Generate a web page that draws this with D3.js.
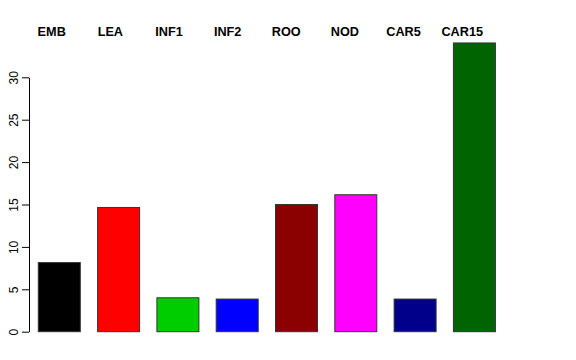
<!DOCTYPE html>
<html>
<head>
<meta charset="utf-8">
<script src="https://cdn.jsdelivr.net/npm/d3@7"></script>
<style>
  body { margin: 0; background: #fff; }
  svg { display: block; }
</style>
</head>
<body>
<svg width="576" height="360"></svg>
<script>
// categories, values and fills
var categories = ["EMB", "LEA", "INF1", "INF2", "ROO", "NOD", "CAR5", "CAR15"];
var values = [8.15, 14.65, 4.0, 3.85, 15.0, 16.15, 3.85, 34.05];
var colors = ["#000000", "#ff0000", "#00cd00", "#0000ff", "#8b0000", "#ff00ff", "#00008b", "#006400"];
var yTicks = [0, 5, 10, 15, 20, 25, 30];

var svg = d3.select("svg");

// x band for the bars
var x = d3.scaleBand()
    .domain(categories)
    .range([38.3, 495.4])
    .paddingInner(0.292)
    .paddingOuter(0);

// labels at top sit on their own spacing
var xl = d3.scalePoint()
    .domain(categories)
    .range([51.7, 462.2]);

var y = d3.scaleLinear()
    .domain([0, 30])
    .range([331.7, 77.3]);

// bars
svg.append("g")
  .selectAll("rect")
  .data(values)
  .enter().append("rect")
    .attr("x", function(d, i) { return x(categories[i]); })
    .attr("y", function(d) { return y(d); })
    .attr("width", x.bandwidth())
    .attr("height", function(d) { return y(0) - y(d); })
    .attr("fill", function(d, i) { return colors[i]; })
    .attr("stroke", "#333")
    .attr("stroke-width", 1);

// y axis
var yAxis = svg.append("g")
    .attr("transform", "translate(29,0)")
    .call(d3.axisLeft(y).tickValues(yTicks).tickSize(7).tickSizeOuter(0));

yAxis.select(".domain").attr("stroke", "#000");
yAxis.selectAll("line").attr("stroke", "#000");
yAxis.selectAll("text")
    .attr("x", 0)
    .attr("y", 0)
    .attr("dy", 0)
    .attr("transform", "translate(-11.5,0) rotate(-90)")
    .attr("text-anchor", "middle")
    .attr("fill", "#000")
    .style("font-family", "'Liberation Sans', Arial, sans-serif")
    .style("font-size", "12px");

// category labels on top
svg.append("g")
  .selectAll("text")
  .data(categories)
  .enter().append("text")
    .attr("x", function(d) { return xl(d); })
    .attr("y", 35.5)
    .attr("text-anchor", "middle")
    .style("font-family", "'Liberation Sans', Arial, sans-serif")
    .style("font-size", "12.7px")
    .style("font-weight", "bold")
    .text(function(d) { return d; });
</script>
</body>
</html>
